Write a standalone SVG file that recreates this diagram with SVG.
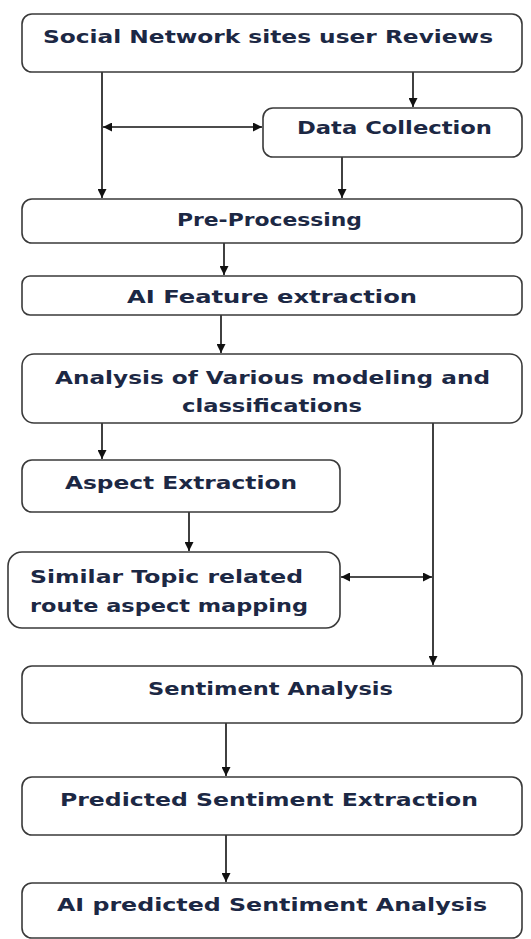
<svg xmlns="http://www.w3.org/2000/svg" width="531" height="939" viewBox="0 0 531 939">
<defs>
<style>
.box{fill:#ffffff;stroke:#3a3a3a;stroke-width:1.6}
.lbl{font-family:"DejaVu Sans","Liberation Sans",sans-serif;font-weight:bold;font-size:18.5px;fill:#1c2844}
.con{fill:none;stroke:#111111;stroke-width:1.6}
</style>
<marker id="ah" viewBox="0 0 10 10" refX="10" refY="5" markerWidth="9" markerHeight="9" markerUnits="userSpaceOnUse" orient="auto-start-reverse">
<path d="M0,0 L10,5 L0,10 z" fill="#111111"/>
</marker>
</defs>
<rect width="531" height="939" fill="#ffffff"/>
<g id="connectors">
<path class="con" d="M102,72 V198" marker-end="url(#ah)"/>
<path class="con" d="M413,72 V107" marker-end="url(#ah)"/>
<path class="con" d="M103,127 H262" marker-start="url(#ah)" marker-end="url(#ah)"/>
<path class="con" d="M342,157 V198" marker-end="url(#ah)"/>
<path class="con" d="M224,243 V275" marker-end="url(#ah)"/>
<path class="con" d="M221,315 V353" marker-end="url(#ah)"/>
<path class="con" d="M102,423 V459" marker-end="url(#ah)"/>
<path class="con" d="M433,423 V665" marker-end="url(#ah)"/>
<path class="con" d="M189,512 V551" marker-end="url(#ah)"/>
<path class="con" d="M341,577 H432" marker-start="url(#ah)" marker-end="url(#ah)"/>
<path class="con" d="M226,723 V776" marker-end="url(#ah)"/>
<path class="con" d="M226,835 V882" marker-end="url(#ah)"/>
</g>
<g id="n1"><rect class="box" x="22" y="14" width="500" height="58" rx="10"/><text class="lbl" x="43" y="43" textLength="450" lengthAdjust="spacingAndGlyphs">Social Network sites user Reviews</text></g>
<g id="n2"><rect class="box" x="263" y="108" width="259" height="49" rx="10"/><text class="lbl" x="297" y="134" textLength="195" lengthAdjust="spacingAndGlyphs">Data Collection</text></g>
<g id="n3"><rect class="box" x="22" y="199" width="500" height="44" rx="10"/><text class="lbl" x="177" y="226" textLength="185" lengthAdjust="spacingAndGlyphs">Pre-Processing</text></g>
<g id="n4"><rect class="box" x="22" y="276" width="500" height="39" rx="8"/><text class="lbl" x="127" y="303" textLength="290" lengthAdjust="spacingAndGlyphs">AI Feature extraction</text></g>
<g id="n5"><rect class="box" x="22" y="354" width="500" height="69" rx="12"/><text class="lbl" x="55" y="384" textLength="435" lengthAdjust="spacingAndGlyphs">Analysis of Various modeling and</text><text class="lbl" x="182" y="412" textLength="180" lengthAdjust="spacingAndGlyphs">classifications</text></g>
<g id="n6"><rect class="box" x="22" y="460" width="318" height="52" rx="10"/><text class="lbl" x="65" y="489" textLength="232" lengthAdjust="spacingAndGlyphs">Aspect Extraction</text></g>
<g id="n7"><rect class="box" x="8" y="552" width="332" height="76" rx="14"/><text class="lbl" x="30" y="583" textLength="273" lengthAdjust="spacingAndGlyphs">Similar Topic related</text><text class="lbl" x="30" y="612" textLength="278" lengthAdjust="spacingAndGlyphs">route aspect mapping</text></g>
<g id="n8"><rect class="box" x="22" y="666" width="500" height="57" rx="10"/><text class="lbl" x="148" y="695" textLength="245" lengthAdjust="spacingAndGlyphs">Sentiment Analysis</text></g>
<g id="n9"><rect class="box" x="22" y="777" width="500" height="58" rx="10"/><text class="lbl" x="60" y="806" textLength="418" lengthAdjust="spacingAndGlyphs">Predicted Sentiment Extraction</text></g>
<g id="n10"><rect class="box" x="22" y="883" width="500" height="55" rx="10"/><text class="lbl" x="57" y="911" textLength="430" lengthAdjust="spacingAndGlyphs">AI predicted Sentiment Analysis</text></g>
</svg>
